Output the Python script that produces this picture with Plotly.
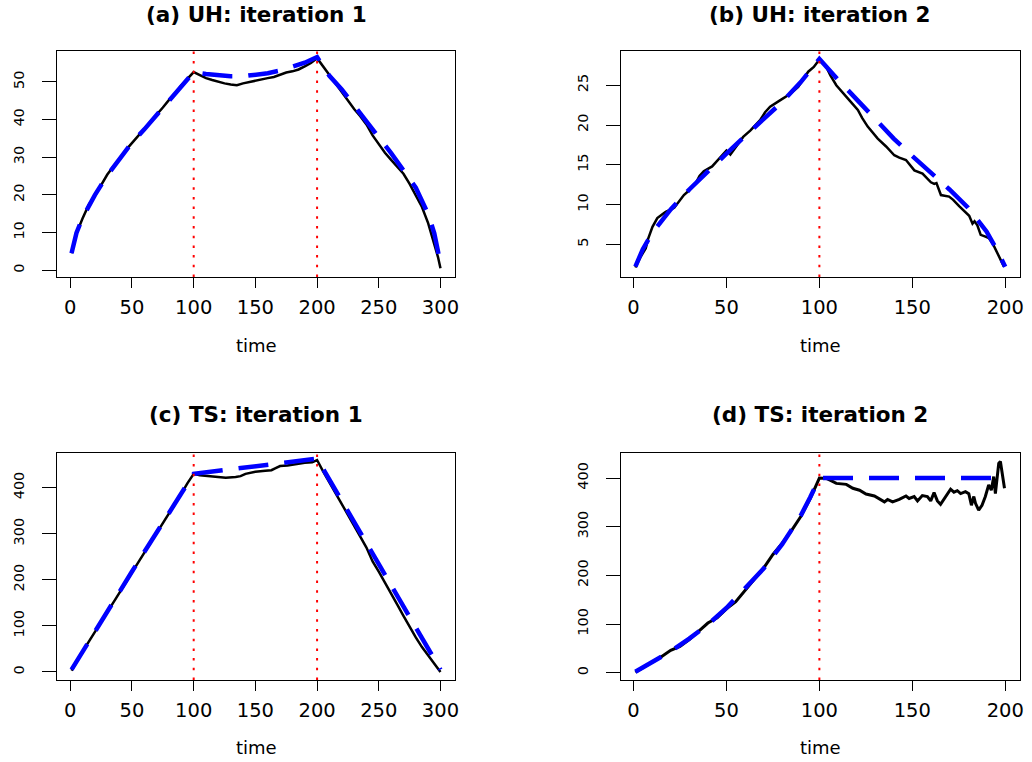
import plotly.graph_objects as go

# ---------------- data ----------------
titles = ["(a) UH: iteration 1", "(b) UH: iteration 2", "(c) TS: iteration 1", "(d) TS: iteration 2"]
xlabel = "time"

# panel (a)
a_black_x = [1, 3, 5, 10, 15, 20, 25, 30, 35, 40, 45, 50, 55, 60, 65, 70, 75, 80, 85, 90, 95, 100,
             105, 110, 115, 120, 125, 130, 135, 140, 145, 150, 155, 160, 165, 170, 175, 180, 185, 190, 195, 200,
             205, 210, 215, 220, 225, 230, 235, 240, 245, 250, 255, 260, 265, 270, 275, 280, 285, 290, 295, 298, 300]
a_black_y = [4.5, 7.3, 9.8, 13.8, 17.4, 19.8, 22.8, 25.4, 27.6, 29.4, 31.9, 33.8, 35.6, 37.3, 39.5, 41.1, 43.2, 45.2, 46.8, 49.1, 50.8, 52.6,
             51.8, 51.0, 50.5, 50.0, 49.6, 49.3, 49.1, 49.6, 50.0, 50.4, 50.6, 51.0, 51.3, 52.0, 52.5, 52.8, 53.3, 54.1, 55.0, 56.3,
             54.2, 51.8, 49.6, 47.3, 45.0, 42.8, 40.9, 38.7, 35.8, 33.5, 31.2, 29.3, 27.5, 25.6, 22.9, 20.0, 16.8, 12.5, 7.0, 3.5, 0.5]
a_blue_x = [1, 3, 5, 10, 15, 20, 30, 40, 50, 60, 70, 80, 90, 100,
            110, 120, 130, 140, 150, 160, 170, 180, 190, 200,
            210, 220, 230, 240, 250, 260, 270, 280, 290, 295, 298, 300]
a_blue_y = [4.5, 7.5, 9.9, 14.0, 17.3, 20.0, 25.2, 29.6, 33.9, 37.4, 41.2, 45.0, 49.0, 52.6,
            52.1, 51.7, 51.5, 51.5, 51.8, 52.3, 53.0, 53.9, 55.1, 56.6,
            51.6, 48.0, 43.6, 39.6, 35.3, 31.1, 26.7, 21.9, 14.9, 9.8, 5.0, 1.0]
a_breaks = [100, 200]

# panel (b)
b_black_x = [1, 4, 6.6, 8, 10.2, 12.8, 15, 17.3, 21.9, 24, 27.1, 30, 33.3, 35.5, 37.8, 42.3, 46.8, 48.6, 50,
             52.1, 55.7, 59, 62.8, 65.5, 68.1, 70.8, 73.5, 78.8, 84.2, 88.6, 91, 94, 97, 100.2,
             103.7, 106, 109.1, 112.7, 116.2, 120.7, 123, 126, 131.4, 135.9, 140.3, 143, 146.6, 151.1,
             155.5, 160, 161.8, 163, 165.4, 169.8, 172, 175.2, 178, 180.6, 182.4, 183.5, 185, 186.8,
             189, 191.2, 193.5, 195.7, 197.5, 199.3]
b_black_y = [2.1, 3.5, 4.5, 5.8, 7.2, 8.3, 8.7, 9.1, 9.6, 10.3, 11.2, 11.8, 12.6, 13.6, 14.2, 14.8, 16.0, 16.5, 16.8,
             16.3, 17.4, 18.5, 19.3, 19.9, 20.6, 21.6, 22.3, 23.1, 23.9, 24.8, 25.6, 26.7, 27.3, 28.3,
             27.3, 26.2, 25.0, 24.1, 23.1, 21.9, 20.9, 19.8, 18.3, 17.3, 16.2, 15.9, 15.6, 14.3,
             13.9, 12.8, 12.6, 12.7, 11.2, 11.0, 10.6, 9.8, 9.2, 8.6, 7.6, 7.9, 7.4, 6.2,
             6.0, 5.8, 5.0, 4.0, 3.2, 2.2]
b_blue_x = [1, 3, 5, 10, 15, 20, 30, 40, 50, 60, 70, 80, 90, 100,
            110, 120, 130, 140, 150, 160, 170, 180, 185, 190, 195, 198, 200]
b_blue_y = [2.2, 3.4, 4.4, 6.4, 8.0, 9.4, 11.9, 14.2, 16.4, 18.6, 20.7, 22.9, 25.4, 28.3,
            25.7, 23.2, 20.7, 18.3, 16.1, 14.0, 11.9, 9.6, 8.2, 6.6, 4.5, 3.1, 2.2]
b_breaks = [100]

# panel (c)
c_black_x = [1, 5, 10, 15, 20, 25, 30, 35, 40, 45, 50, 55, 60, 65, 70, 75, 80, 85, 90, 95, 100,
             105, 110, 118, 126, 134, 138, 142, 150, 158, 163, 166, 170, 176, 182, 186, 190, 196, 200,
             205, 210, 215, 220, 225, 230, 235, 240, 245, 250, 255, 260, 265, 270, 275, 280, 285, 290, 295, 300]
c_black_y = [3, 22, 44, 66, 87, 108, 129, 150, 172, 194, 216, 237, 258, 281, 301, 322, 344, 366, 387, 410, 430,
             427, 426, 424, 421.6, 423, 425, 430, 434.6, 436.8, 438, 442, 447, 448, 450.6, 451, 454, 455, 460,
             435, 412, 388, 366, 342, 318, 294, 270, 240, 218, 193, 168, 146, 122, 98, 75, 54, 36, 17, 0]
c_blue_x = [1, 50, 100, 150, 200, 250, 300]
c_blue_y = [5, 218, 430, 446.5, 463, 234, 5]
c_breaks = [100, 200]

# panel (d)
d_black_x = [1, 5, 10, 15, 20, 25, 30, 35, 40, 45, 50, 55, 60, 65, 70, 75, 80, 85, 90, 95, 100,
             101, 103.7, 106, 109.1, 114.5, 118, 121.6, 125.1, 129.6, 133.2, 135, 136.7, 139.4, 143,
             146.6, 148.3, 151, 152.8, 155.4, 158.1, 159.9, 161.7, 163.5, 165.2, 167.9, 170.6, 172.4,
             174.2, 176, 178.6, 180.4, 181.8, 183.1, 184, 185.7, 187.5, 189.3, 191.1, 192.5, 193.8,
             194.7, 195.6, 196.5, 197.4, 198.3, 199.6]
d_black_y = [1, 10, 21, 33, 46, 54, 68, 85, 102, 113, 131, 146, 168, 192, 215, 243, 266, 292, 321, 357, 400,
             400, 399, 395, 389, 387, 379, 375, 367, 363, 356, 351, 356, 351, 356,
             363, 358, 362, 353, 364, 362, 353, 370, 353, 346, 362, 377, 371,
             374, 368, 372, 368, 344, 362, 348, 334, 344, 362, 386, 375, 403,
             368, 406, 430, 434, 410, 379]
d_blue_x = [1, 10, 20, 30, 40, 50, 60, 70, 80, 90, 95, 100, 200]
d_blue_y = [2, 22, 44, 70, 99, 133, 172, 214, 264, 323, 360, 400, 400]
d_breaks = [100]

# axis ticks
x_ticks_300 = [0, 50, 100, 150, 200, 250, 300]
x_ticks_200 = [0, 50, 100, 150, 200]
a_yticks = [0, 10, 20, 30, 40, 50]
b_yticks = [5, 10, 15, 20, 25]
c_yticks = [0, 100, 200, 300, 400]
d_yticks = [0, 100, 200, 300, 400]

# ---------------- figure ----------------
W, H = 1032, 762
FONT = "DejaVu Sans"
left_dom = [57 / W, 457 / W]
right_dom = [623 / W, 1024 / W]
top_dom = [(H - 277) / H, (H - 51) / H]
bot_dom = [(H - 680) / H, (H - 453.3) / H]

panels = [
    dict(bx=a_black_x, by=a_black_y, ux=a_blue_x, uy=a_blue_y, br=a_breaks,
         xd=left_dom, yd=top_dom, xr=[-10.96, 311.96], yr=[-1.8, 58.2], xt=x_ticks_300, yt=a_yticks, bw=2.5),
    dict(bx=b_black_x, by=b_black_y, ux=b_blue_x, uy=b_blue_y, br=b_breaks,
         xd=right_dom, yd=top_dom, xr=[-6.96, 207.96], yr=[0.9, 29.3], xt=x_ticks_200, yt=b_yticks, bw=2.5),
    dict(bx=c_black_x, by=c_black_y, ux=c_blue_x, uy=c_blue_y, br=c_breaks,
         xd=left_dom, yd=bot_dom, xr=[-10.96, 311.96], yr=[-17.4, 474.6], xt=x_ticks_300, yt=c_yticks, bw=2.5),
    dict(bx=d_black_x, by=d_black_y, ux=d_blue_x, uy=d_blue_y, br=d_breaks,
         xd=right_dom, yd=bot_dom, xr=[-6.96, 207.96], yr=[-15, 450.8], xt=x_ticks_200, yt=d_yticks, bw=3),
]

fig = go.Figure()
layout = dict(width=W, height=H, margin=dict(l=0, r=0, t=0, b=0), autosize=False,
              paper_bgcolor="white", plot_bgcolor="white", showlegend=False,
              annotations=[], shapes=[])

for i, p in enumerate(panels):
    n = "" if i == 0 else str(i + 1)
    xa, ya = "x" + n, "y" + n
    fig.add_trace(go.Scatter(x=p["bx"], y=p["by"], mode="lines", xaxis=xa, yaxis=ya,
                             line=dict(color="black", width=p["bw"]), hoverinfo="skip"))
    fig.add_trace(go.Scatter(x=p["ux"], y=p["uy"], mode="lines", xaxis=xa, yaxis=ya,
                             line=dict(color="#0000FF", width=4.5, dash="30px,16px"), hoverinfo="skip"))
    for b in p["br"]:
        layout["shapes"].append(dict(type="line", xref=xa, yref=ya + " domain", x0=b, x1=b, y0=0, y1=1,
                                     line=dict(color="red", width=2, dash="2.5px,7.2px"), layer="above"))
    layout["xaxis" + n] = dict(domain=p["xd"], range=p["xr"], anchor=ya, tickvals=p["xt"],
                               ticks="outside", ticklen=10, tickwidth=1, tickcolor="black",
                               showline=True, mirror=True, linecolor="black", linewidth=1,
                               showgrid=False, zeroline=False, ticklabelstandoff=3, fixedrange=True,
                               tickfont=dict(family=FONT, size=19.5, color="black"))
    layout["yaxis" + n] = dict(domain=p["yd"], range=p["yr"], anchor=xa, tickvals=p["yt"],
                               ticks="outside", ticklen=14, tickwidth=1, tickcolor="black",
                               showline=True, mirror=True, linecolor="black", linewidth=1,
                               showgrid=False, zeroline=False, tickangle=-90, ticklabelstandoff=12,
                               fixedrange=True,
                               tickfont=dict(family=FONT, size=14.5, color="black"))
    top = p["yd"] is top_dom
    layout["annotations"].append(dict(text="<b>" + titles[i] + "</b>", xref=xa + " domain", x=0.5,
                                      yref="paper", y=(H - (14 if top else 414.7)) / H,
                                      xanchor="center", yanchor="middle", showarrow=False,
                                      font=dict(family=FONT, size=21.5, color="black")))
    layout["annotations"].append(dict(text=xlabel, xref=xa + " domain", x=0.5,
                                      yref="paper", y=(H - (345 if top else 747.5)) / H,
                                      xanchor="center", yanchor="middle", showarrow=False,
                                      font=dict(family=FONT, size=18, color="black")))

fig.update_layout(**layout)
fig.write_html("out.html", config={"displayModeBar": False},
               post_script="document.body.style.margin='0';")
